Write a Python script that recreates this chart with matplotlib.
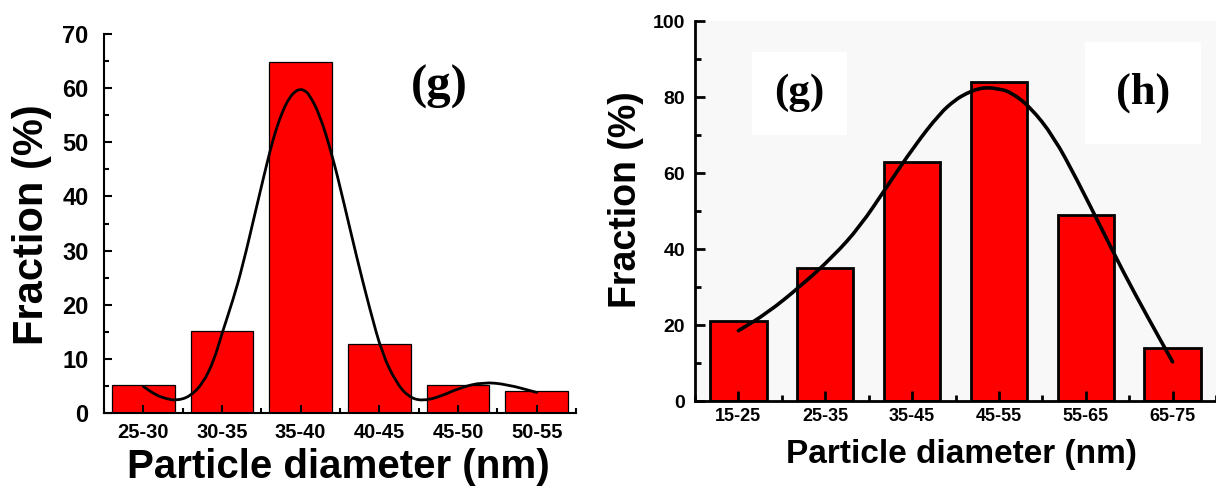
import matplotlib
matplotlib.use("Agg")
import matplotlib.pyplot as plt
from matplotlib.path import Path
from matplotlib.patches import PathPatch
from matplotlib.ticker import MultipleLocator, FixedLocator

# Size distributions (fraction in %) for the two samples
left_bins = ["25-30", "30-35", "35-40", "40-45", "45-50", "50-55"]
left_frac = [5.1, 15.1, 64.8, 12.8, 5.1, 4.0]

right_bins = ["15-25", "25-35", "35-45", "45-55", "55-65", "65-75"]
right_frac = [21, 35, 63, 84, 49, 14]

# Smoothed guide curves (bin index, fraction)
left_curve_x = [0.0, 0.16, 0.30, 0.42, 0.59, 0.76, 0.90, 1.0, 1.14, 1.26, 1.44, 1.52, 1.60,
                1.67, 1.77, 1.86, 1.93, 1.99, 2.05, 2.11, 2.24, 2.40, 2.54, 2.71, 2.88,
                3.04, 3.22, 3.37, 3.54, 3.77, 4.03, 4.32, 4.62, 5.0]
left_curve_y = [4.9, 3.3, 2.6, 2.3, 3.0, 5.5, 9.8, 14.7, 20.9, 27.0, 38.1, 43.0, 47.8,
                51.6, 55.8, 58.3, 59.4, 59.8, 59.6, 58.8, 55.2, 47.7, 39.4, 28.9, 19.1,
                10.8, 5.5, 3.0, 2.2, 3.0, 4.7, 5.7, 5.3, 3.8]

right_curve_x = [0.0, 0.33, 0.71, 1.09, 1.40, 1.71, 2.02, 2.32, 2.50, 2.63, 2.75, 2.86,
                 2.98, 3.13, 3.36, 3.63, 3.90, 4.17, 4.44, 4.71, 5.0]
right_curve_y = [18.5, 23.1, 30.1, 38.0, 45.9, 56.4, 66.9, 75.7, 79.3, 81.0, 82.1, 82.5,
                 82.2, 81.4, 77.4, 69.6, 58.2, 45.9, 33.6, 22.2, 10.3]

SANS = "Liberation Sans"
SERIF = "Liberation Serif"

fig = plt.figure(figsize=(12.16, 4.92), dpi=100)
fig.patch.set_facecolor("white")


def smooth_curve(ax, xs, ys, lw):
    # quadratic Bezier pieces through the midpoints, read points act as control points
    verts = [(xs[0], ys[0])]
    codes = [Path.MOVETO]
    mids = [((xs[i] + xs[i + 1]) / 2, (ys[i] + ys[i + 1]) / 2) for i in range(len(xs) - 1)]
    verts.append(mids[0])
    codes.append(Path.LINETO)
    for i in range(1, len(xs) - 1):
        verts += [(xs[i], ys[i]), mids[i]]
        codes += [Path.CURVE3, Path.CURVE3]
    verts.append((xs[-1], ys[-1]))
    codes.append(Path.LINETO)
    patch = PathPatch(Path(verts, codes), facecolor="none", edgecolor="black", lw=lw,
                      zorder=3, joinstyle="round", capstyle="round")
    ax.add_patch(patch)


def style_axes(ax, lw, major_len, minor_len, tick_size, xpad, ypad):
    ax.set_axisbelow(False)
    for side in ["top", "right"]:
        ax.spines[side].set_visible(False)
    for side in ["left", "bottom"]:
        ax.spines[side].set_linewidth(lw)
    ax.tick_params(which="major", direction="in", length=major_len, width=lw,
                   labelsize=tick_size)
    ax.tick_params(which="minor", direction="in", length=minor_len, width=lw)
    ax.tick_params(axis="x", pad=xpad)
    ax.tick_params(axis="y", pad=ypad)
    for lab in ax.get_xticklabels() + ax.get_yticklabels():
        lab.set_fontfamily(SANS)
        lab.set_fontweight("bold")


# Left panel
ax1 = fig.add_axes([104 / 1216, 79 / 492, 472 / 1216, 379 / 492])
x1 = range(len(left_bins))
ax1.bar(x1, left_frac, width=0.8, color="#ff0000", edgecolor="black", linewidth=0.9, zorder=2)
smooth_curve(ax1, left_curve_x, left_curve_y, 2.0)
ax1.set_xlim(-0.5, 5.5)
ax1.set_ylim(0, 70)
ax1.set_xticks(list(x1))
ax1.set_xticklabels(left_bins)
ax1.xaxis.set_minor_locator(FixedLocator([i + 0.5 for i in range(-1, 6)]))
ax1.yaxis.set_major_locator(MultipleLocator(10))
ax1.yaxis.set_minor_locator(MultipleLocator(5))
style_axes(ax1, 1.5, 6, 3.5, 14.5, 7, 11)
for lab in ax1.get_yticklabels():
    lab.set_fontsize(17)
ax1.text(0.71, 0.86, "(g)", transform=ax1.transAxes, fontsize=35, fontweight="bold",
         fontfamily=SERIF, ha="center", va="center")

fig.text(338 / 1216, 1 - 467 / 492, "Particle diameter (nm)", fontsize=29, fontweight="bold",
         fontfamily=SANS, ha="center", va="center")
fig.text(32 / 1216, 1 - 225 / 492, "Fraction (%)", fontsize=30, fontweight="bold",
         fontfamily=SANS, ha="center", va="center", rotation=90)

# Right panel
ax2 = fig.add_axes([695 / 1216, 91 / 492, 521 / 1216, 380 / 492])
ax2.set_facecolor("#f8f8f8")
x2 = range(len(right_bins))
ax2.bar(x2, right_frac, width=0.65, color="#ff0000", edgecolor="black", linewidth=2.0, zorder=2)
smooth_curve(ax2, right_curve_x, right_curve_y, 2.6)
ax2.set_xlim(-0.5, 5.5)
ax2.set_ylim(0, 100)
ax2.set_xticks(list(x2))
ax2.set_xticklabels(right_bins)
ax2.xaxis.set_minor_locator(FixedLocator([i + 0.5 for i in range(-1, 6)]))
ax2.yaxis.set_major_locator(MultipleLocator(20))
ax2.yaxis.set_minor_locator(MultipleLocator(10))
style_axes(ax2, 2.0, 7, 4, 13, 5, 7)
for lab in ax2.get_yticklabels():
    lab.set_fontsize(14)
ax2.text(0.20, 0.81, "(g)", transform=ax2.transAxes, fontsize=31, fontweight="bold",
         fontfamily=SERIF, ha="center", va="center", zorder=1,
         bbox=dict(facecolor="white", edgecolor="none", pad=16))
ax2.text(0.86, 0.81, "(h)", transform=ax2.transAxes, fontsize=32, fontweight="bold",
         fontfamily=SERIF, ha="center", va="center", zorder=1,
         bbox=dict(facecolor="white", edgecolor="none", pad=22))

fig.text(961 / 1216, 1 - 455 / 492, "Particle diameter (nm)", fontsize=24, fontweight="bold",
         fontfamily=SANS, ha="center", va="center")
fig.text(626 / 1216, 1 - 200 / 492, "Fraction (%)", fontsize=27, fontweight="bold",
         fontfamily=SANS, ha="center", va="center", rotation=90)

fig.savefig("out.png", dpi=100)
